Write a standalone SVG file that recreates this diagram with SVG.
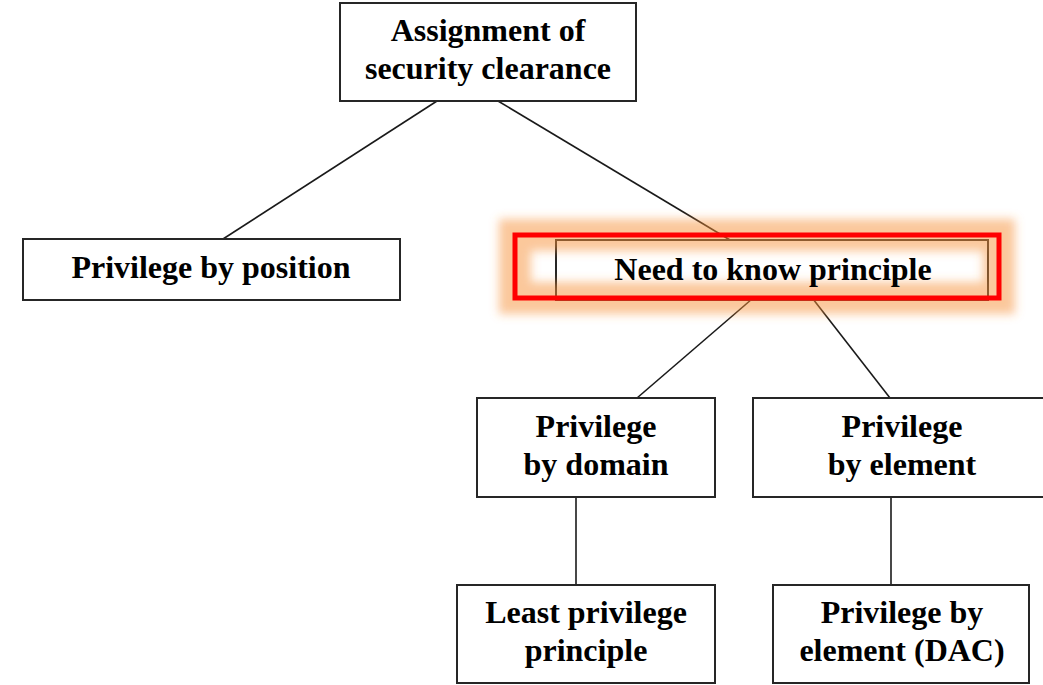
<svg xmlns="http://www.w3.org/2000/svg" width="1043" height="685" viewBox="0 0 1043 685">
  <defs>
    <filter id="glow" x="-20%" y="-80%" width="140%" height="260%">
      <feGaussianBlur stdDeviation="5"/>
    </filter>
    <style>
      .box { fill: #ffffff; stroke: #262626; stroke-width: 2; }
      .lbl { font-family: "Liberation Serif", "Times New Roman", serif; font-weight: bold; font-size: 32px; fill: #000; text-anchor: middle; }
      .edge { stroke: #1a1a1a; stroke-width: 1.6; fill: none; }
    </style>
  </defs>
  <rect width="1043" height="685" fill="#ffffff"/>

  <!-- connectors -->
  <g id="connectors">
    <line class="edge" x1="437" y1="101" x2="223" y2="239"/>
    <line class="edge" x1="498" y1="101" x2="730" y2="240"/>
    <line class="edge" x1="752" y1="299" x2="637" y2="398"/>
    <line class="edge" x1="813" y1="299" x2="890" y2="398"/>
    <line class="edge" x1="576" y1="497" x2="576" y2="585"/>
    <line class="edge" x1="891" y1="497" x2="891" y2="585"/>
  </g>

  <g id="node-clearance">
    <rect class="box" x="340" y="3" width="296" height="98"/>
    <text class="lbl" x="488" y="41">Assignment of</text>
    <text class="lbl" x="488" y="79">security clearance</text>
  </g>

  <g id="node-position">
    <rect class="box" x="23" y="239" width="377" height="61"/>
    <text class="lbl" x="211" y="278">Privilege by position</text>
  </g>

  <g id="node-need-to-know">
    <rect class="box" x="556" y="240" width="432" height="60"/>
    <!-- highlight: soft peach halo plus red frame -->
    <rect x="515" y="235" width="484" height="63" fill="none" stroke="#f7923a" stroke-opacity="0.5" stroke-width="32" filter="url(#glow)"/>
    <rect x="515" y="235" width="484" height="63" fill="none" stroke="#ff0000" stroke-width="5"/>
    <text class="lbl" x="773" y="280">Need to know principle</text>
  </g>

  <g id="node-domain">
    <rect class="box" x="477" y="398" width="238" height="99"/>
    <text class="lbl" x="596" y="437">Privilege</text>
    <text class="lbl" x="596" y="475">by domain</text>
  </g>

  <g id="node-element">
    <rect class="box" x="753" y="398" width="300" height="99"/>
    <text class="lbl" x="902" y="437">Privilege</text>
    <text class="lbl" x="902" y="475">by element</text>
  </g>

  <g id="node-least">
    <rect class="box" x="457" y="585" width="258" height="98"/>
    <text class="lbl" x="586" y="623">Least privilege</text>
    <text class="lbl" x="586" y="661">principle</text>
  </g>

  <g id="node-dac">
    <rect class="box" x="773" y="585" width="256" height="98"/>
    <text class="lbl" x="902" y="623">Privilege by</text>
    <text class="lbl" x="902" y="661">element (DAC)</text>
  </g>
</svg>
